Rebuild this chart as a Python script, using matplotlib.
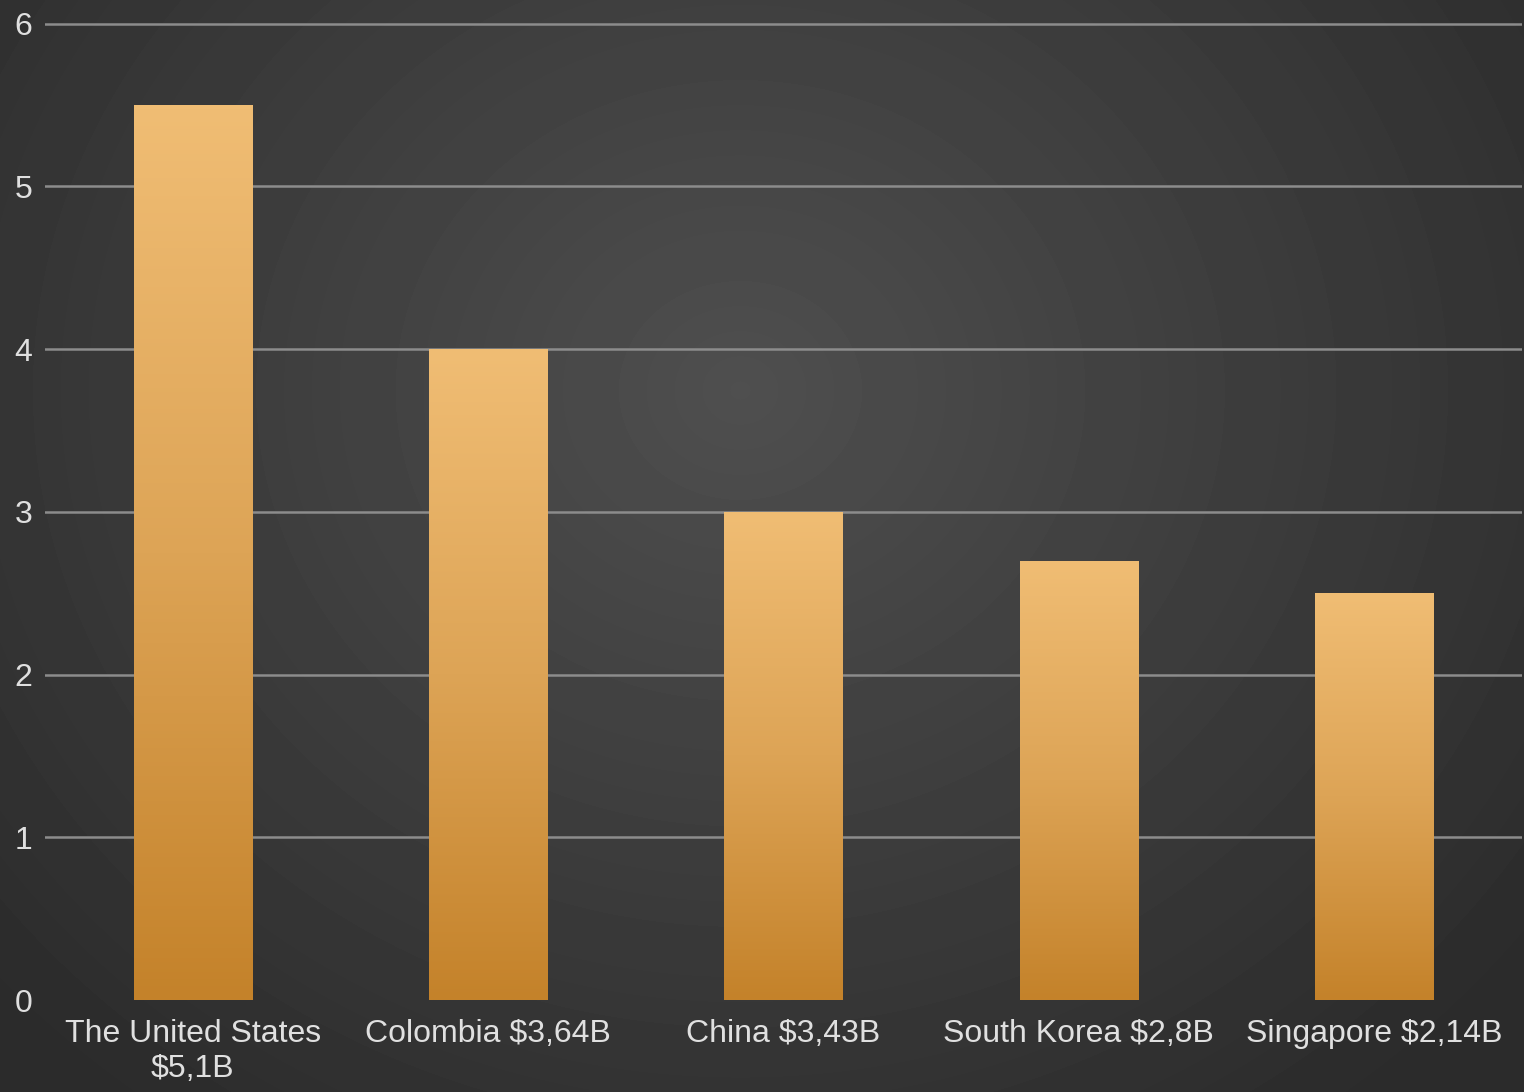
import numpy as np
import matplotlib
matplotlib.use('Agg')
import matplotlib.pyplot as plt
from matplotlib.colors import LinearSegmentedColormap

countries = ['The United States\n$5,1B', 'Colombia $3,64B', 'China $3,43B',
             'South Korea $2,8B', 'Singapore $2,14B']
values = [5.5, 4.0, 3.0, 2.7, 2.5]
yticks = [0, 1, 2, 3, 4, 5, 6]

plt.rcParams['font.family'] = ['Liberation Sans', 'DejaVu Sans']

fig = plt.figure(figsize=(15.24, 10.92), dpi=100)

# radial gradient background
bg = fig.add_axes([0, 0, 1, 1], zorder=-10)
yy, xx = np.mgrid[0:1092, 0:1524]
r = np.hypot((xx - 740) / 1000.0, (yy - 390) / 900.0)
shade = np.clip(0.31 - 0.14 * r, 0.17, 0.31)
bg.imshow(shade, cmap='gray', vmin=0, vmax=1, aspect='auto', extent=[0, 1, 0, 1])
bg.axis('off')

# axes: 0 -> y=1000px, 1 unit = 162.7px
top = 6.05
ax = fig.add_axes([45 / 1524, 92 / 1092, 1477 / 1524, top * 162.7 / 1092])
ax.patch.set_alpha(0)

x = np.arange(len(values))
bars = ax.bar(x, values, width=0.4, color='none', edgecolor='none', zorder=3)

grad = LinearSegmentedColormap.from_list('bar', ['#c4822a', '#dda456', '#f0bd74'])
g = np.linspace(0, 1, 256).reshape(-1, 1)
for b in bars:
    x0, w, h = b.get_x(), b.get_width(), b.get_height()
    im = ax.imshow(g, cmap=grad, origin='lower', aspect='auto',
                   extent=[x0, x0 + w, 0, h], zorder=3)
    im.set_clip_path(b)

ax.set_xlim(-0.5, len(values) - 0.5)
ax.set_ylim(0, top)
ax.set_yticks(yticks)
ax.set_xticks(x)
ax.set_xticklabels(countries)
ax.tick_params(axis='both', length=0, colors='#e0e0e0', labelsize=23)
ax.tick_params(axis='x', pad=14)
ax.tick_params(axis='y', pad=9)
ax.yaxis.grid(True, color='#8c8c8c', linewidth=1.8, zorder=1)
ax.get_ygridlines()[0].set_visible(False)
ax.set_axisbelow(True)
for s in ax.spines.values():
    s.set_visible(False)

fig.savefig('out.png', dpi=100)
